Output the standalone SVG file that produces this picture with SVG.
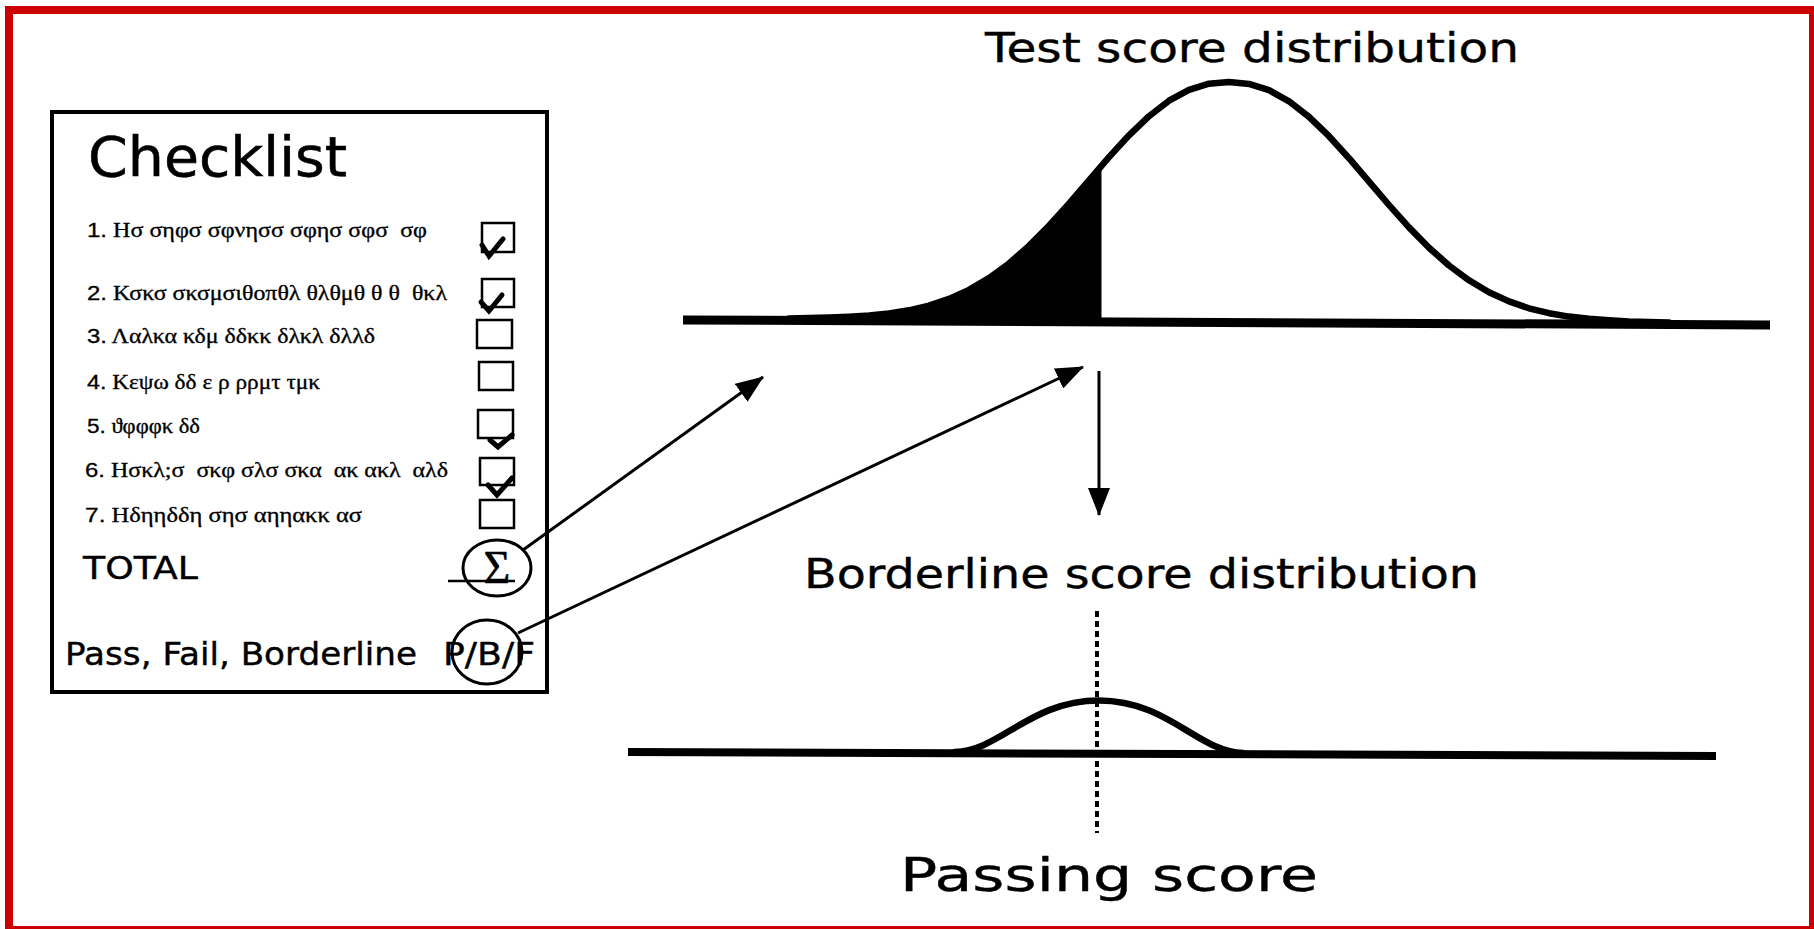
<svg xmlns="http://www.w3.org/2000/svg" width="1814" height="929" viewBox="0 0 1814 929">
<defs>
<style>
.sans{font-family:"DejaVu Sans","Liberation Sans",sans-serif;fill:#000}
.serif{font-family:"Liberation Serif","DejaVu Serif",serif;fill:#000}
.item{font-family:"Liberation Serif","DejaVu Serif",serif;font-size:20px;fill:#000;stroke:#000;stroke-width:0.3}
.num{font-family:"Liberation Sans","DejaVu Sans",sans-serif}
.box{fill:none;stroke:#000;stroke-width:2.5}
.tick{fill:none;stroke:#000;stroke-width:5;stroke-linecap:round;stroke-linejoin:miter}
.conn{fill:none;stroke:#000;stroke-width:3}
.ring{fill:none;stroke:#000;stroke-width:3}
.axis{fill:none;stroke:#000;stroke-width:9}
.curve{fill:none;stroke:#000;stroke-width:6.5;stroke-linejoin:round;stroke-linecap:round}
</style>
<marker id="ah" viewBox="0 0 28 22" refX="27" refY="11" markerWidth="28" markerHeight="22" markerUnits="userSpaceOnUse" orient="auto">
<path d="M0,0 L28,11 L0,22 Z" fill="#000"/>
</marker>
</defs>
<rect x="0" y="0" width="1814" height="929" fill="#fff"/>
<rect x="9" y="10" width="1804" height="920" fill="none" stroke="#cc0000" stroke-width="8"/>

<g id="checklist">
<rect x="52" y="112" width="495" height="580" fill="none" stroke="#000" stroke-width="4"/>
<text class="sans" x="88" y="176" font-size="56" textLength="259" lengthAdjust="spacingAndGlyphs" stroke="#000" stroke-width="0.6">Checklist</text>
<text class="item" x="87" y="237" xml:space="preserve" textLength="340" lengthAdjust="spacingAndGlyphs"><tspan class="num">1.</tspan> Ησ σηφσ σφνησσ σφησ σφσ  σφ</text>
<text class="item" x="87" y="300" xml:space="preserve" textLength="360" lengthAdjust="spacingAndGlyphs"><tspan class="num">2.</tspan> Κσκσ σκσμσιθοπθλ θλθμθ θ θ  θκλ</text>
<text class="item" x="87" y="343" xml:space="preserve" textLength="288" lengthAdjust="spacingAndGlyphs"><tspan class="num">3.</tspan> Λαλκα κδμ δδκκ δλκλ δλλδ</text>
<text class="item" x="87" y="389" xml:space="preserve" textLength="233" lengthAdjust="spacingAndGlyphs"><tspan class="num">4.</tspan> Κεψω δδ ε ρ ρρμτ τμκ</text>
<text class="item" x="87" y="433" xml:space="preserve" textLength="113" lengthAdjust="spacingAndGlyphs"><tspan class="num">5.</tspan> ϑφφφκ δδ</text>
<text class="item" x="85" y="477" xml:space="preserve" textLength="363" lengthAdjust="spacingAndGlyphs"><tspan class="num">6.</tspan> Ησκλ;σ  σκφ σλσ σκα  ακ ακλ  αλδ</text>
<text class="item" x="85" y="522" xml:space="preserve" textLength="277" lengthAdjust="spacingAndGlyphs"><tspan class="num">7.</tspan> Ηδηηδδη σησ αηηακκ ασ</text>

<rect class="box" x="482" y="223" width="32" height="29"/>
<path class="tick" d="M482,245 L489,256 L503,239"/>
<rect class="box" x="482" y="279" width="32" height="28"/>
<path class="tick" d="M481,302 L489,311 L502,295"/>
<rect class="box" x="477" y="320" width="35" height="28"/>
<rect class="box" x="479" y="362" width="34" height="28"/>
<rect class="box" x="478" y="410" width="35" height="28"/>
<path class="tick" d="M490,440 L498,447 L512,435"/>
<rect class="box" x="480" y="458" width="34" height="27"/>
<path class="tick" d="M488,485 L497,495 L512,478"/>
<rect class="box" x="480" y="500" width="34" height="28"/>

<text class="sans" x="83" y="579" font-size="32" textLength="115" lengthAdjust="spacingAndGlyphs" stroke="#000" stroke-width="0.4">TOTAL</text>
<line x1="448" y1="581" x2="515" y2="581" stroke="#000" stroke-width="2.5"/>
<text class="serif" x="497" y="583" font-size="46" text-anchor="middle" stroke="#000" stroke-width="0.6">Σ</text>
<ellipse class="ring" cx="497" cy="568" rx="34" ry="28"/>

<text class="sans" x="65" y="665" font-size="32" textLength="352" lengthAdjust="spacingAndGlyphs" stroke="#000" stroke-width="0.4">Pass, Fail, Borderline</text>
<text class="sans" x="443" y="665" font-size="32" textLength="92" lengthAdjust="spacingAndGlyphs" stroke="#000" stroke-width="0.4">P/B/F</text>
<ellipse class="ring" cx="487" cy="652" rx="35" ry="32"/>
</g>

<g id="test-distribution">
<text class="sans" x="985" y="62" font-size="40" textLength="534" lengthAdjust="spacingAndGlyphs" stroke="#000" stroke-width="0.4">Test score distribution</text>
<path d="M809,318.1 L829,317.6 L849,316.8 L869,315.6 L889,313.5 L909,310.3 L929,305.6 L949,298.9 L969,289.9 L989,278.1 L1009,263.5 L1029,245.9 L1049,225.7 L1069,203.6 L1089,180.3 L1100,167.6 L1100,322 L809,322 Z" fill="#000"/>
<line class="axis" x1="683" y1="320" x2="1770" y2="325"/>
<polyline class="curve" points="789,318.5 809,318.1 829,317.6 849,316.8 869,315.6 889,313.5 909,310.3 929,305.6 949,298.9 969,289.9 989,278.1 1009,263.5 1029,245.9 1049,225.7 1069,203.6 1089,180.3 1109,157.1 1129,135.3 1149,116.2 1169,100.7 1189,89.8 1209,83.7 1229,82 1249,83.9 1269,90.2 1289,101.3 1309,116.9 1329,136.2 1349,158.2 1369,181.6 1389,205 1409,227.4 1429,247.7 1449,265.5 1469,280.3 1489,292.3 1509,301.4 1529,308.3 1549,313.2 1569,316.6 1589,318.8 1609,320.3 1629,321.4 1649,322 1669,322.5"/>
<line x1="1100" y1="168" x2="1100" y2="322" stroke="#000" stroke-width="3"/>
</g>

<g id="borderline-distribution">
<text class="sans" x="804" y="588" font-size="40" textLength="675" lengthAdjust="spacingAndGlyphs" stroke="#000" stroke-width="0.4">Borderline score distribution</text>
<line x1="628" y1="752" x2="1716" y2="756" stroke="#000" stroke-width="8"/>
<path class="curve" stroke-width="5.5" d="M955,752 C1000,751 1030,700.5 1099,700.5 C1168,700.5 1198,752 1243,753"/>
<line x1="1097" y1="611" x2="1097" y2="833" stroke="#000" stroke-width="4" stroke-dasharray="6 4"/>
<text class="sans" x="900" y="891" font-size="47" textLength="418" lengthAdjust="spacingAndGlyphs" stroke="#000" stroke-width="0.4">Passing score</text>
</g>

<g id="connectors">
<line class="conn" x1="523" y1="550" x2="763" y2="377" marker-end="url(#ah)"/>
<line class="conn" x1="518" y1="633" x2="1083" y2="367" marker-end="url(#ah)"/>
<line class="conn" x1="1099" y1="371" x2="1099" y2="515" marker-end="url(#ah)"/>
</g>
</svg>
